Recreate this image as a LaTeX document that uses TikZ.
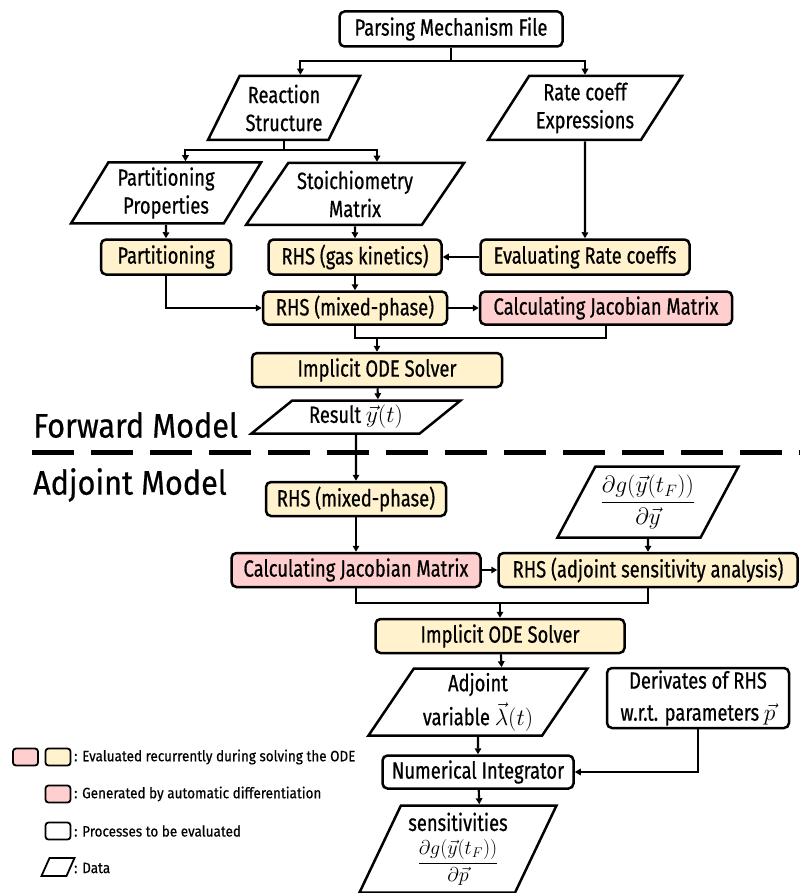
\RequirePackage{fix-cm}
\documentclass[tikz,border=0pt]{standalone}
\usepackage[no-math]{fontspec}
\setmainfont[FakeStretch=0.78,FakeBold=0.6]{Fira Sans}
\newfontfamily\widefont[FakeStretch=0.9,FakeBold=0.5]{Fira Sans}
\usetikzlibrary{shapes.geometric,arrows.meta}
\definecolor{procyellow}{HTML}{FFF2CC}
\definecolor{procpink}{HTML}{FFCFCF}
\begin{document}
\begin{tikzpicture}[x=1pt,y=-1pt,
   >={Triangle[length=6pt,width=6.5pt]},
   every node/.style={font=\fontsize{23.5}{28}\selectfont},
   process/.style={draw,line width=2.5pt,rounded corners=5pt,align=center,inner sep=1pt},
   databox/.style={draw,line width=2.5pt,trapezium,trapezium left angle=#1,trapezium right angle=180-#1,
      trapezium stretches body,align=center,inner sep=1pt},
   databox/.default=60,
   link/.style={line width=2.1pt},
   legbox/.style={draw,line width=1.8pt,rounded corners=3pt,minimum width=25pt,minimum height=17pt,inner sep=0pt},
   legtext/.style={anchor=west,inner sep=0pt,font=\widefont\fontsize{15}{18}\selectfont},
   title/.style={anchor=west,inner sep=0pt,font=\widefont\fontsize{34}{40}\selectfont}]
   \useasboundingbox (0,0) rectangle (800,893);
   \node[process,minimum width=223pt,minimum height=35pt] (pmf) at (451,29) {Parsing Mechanism File};
   \node[databox=57,minimum width=152pt,minimum height=64pt] (rs) at (284,108) {Reaction\\Structure};
   \node[databox=52,minimum width=194pt,minimum height=64pt] (rc) at (585,108) {Rate coeff\\Expressions};
   \node[databox=55,minimum width=190pt,minimum height=61pt] (pp) at (166,193) {Partitioning\\Properties};
   \node[databox=49,minimum width=218pt,minimum height=62pt] (sm) at (355,194) {Stoichiometry\\Matrix};
   \node[process,fill=procyellow,minimum width=130pt,minimum height=35pt] (part) at (166,257) {Partitioning};
   \node[process,fill=procyellow,minimum width=173pt,minimum height=35pt] (gas) at (355,257) {RHS (gas kinetics)};
   \node[process,fill=procyellow,minimum width=209pt,minimum height=35pt] (erc) at (585,257) {Evaluating Rate coeffs};
   \node[process,fill=procyellow,minimum width=184pt,minimum height=33pt] (mix) at (355,308) {RHS (mixed-phase)};
   \node[process,fill=procpink,minimum width=252pt,minimum height=33pt] (jac) at (606,308) {Calculating Jacobian Matrix};
   \node[process,fill=procyellow,minimum width=250pt,minimum height=34pt] (ode) at (377,370) {Implicit ODE Solver};
   \node[databox=32,minimum width=209pt,minimum height=33pt] (res) at (356,417) {Result $\vec{y}(t)$};
   \node[title] (fwd) at (33,425) {Forward Model};
   \node[title] (adjm) at (33,485) {Adjoint Model};
   \coordinate (sepl) at (32,452);
   \coordinate (sepr) at (800,452);
   \draw[line width=5pt,dash pattern=on 42pt off 17pt] (sepl) -- (sepr);
   \node[process,fill=procyellow,minimum width=180pt,minimum height=34pt] (amix) at (356,499) {RHS (mixed-phase)};
   \node[databox=56,minimum width=181pt,minimum height=71pt] (dgdy) at (648,502) {$\displaystyle\frac{\partial g(\vec{y}(t_F))}{\partial\vec{y}}$};
   \node[process,fill=procpink,minimum width=249pt,minimum height=34pt] (ajac) at (356,570) {Calculating Jacobian Matrix};
   \node[process,fill=procyellow,minimum width=299pt,minimum height=34pt] (adj) at (648,570) {RHS (adjoint sensitivity analysis)};
   \node[process,fill=procyellow,minimum width=249pt,minimum height=34pt] (aode) at (500,636) {Implicit ODE Solver};
   \node[databox=53,minimum width=219pt,minimum height=67pt] (lam) at (478,702) {Adjoint\\[6pt]variable $\vec{\lambda}(t)$};
   \node[process,minimum width=182pt,minimum height=60pt] (der) at (698,698) {Derivates of RHS\\[4pt]w.r.t. parameters $\vec{p}$};
   \node[process,minimum width=191pt,minimum height=33pt] (ni) at (478,772) {Numerical Integrator};
   \node[databox=61,minimum width=197pt,minimum height=87pt] (sens) at (458,849) {sensitivities\\[7pt]{\fontsize{20}{24}\selectfont$\displaystyle\frac{\partial g\bigl(\vec{y}(t_F)\bigr)}{\partial\vec{p}}$}};
   \coordinate (psplit) at (451,61);
   \coordinate (rsplit) at (284,150);
   \coordinate (fjoin) at (377,338);
   \coordinate (ajoin) at (500,603);
   \draw[link] (pmf) -- (psplit);
   \draw[link,->] (psplit) -| (rs.top side);
   \draw[link,->] (psplit) -| (rc);
   \draw[link] (rs) -- (rsplit);
   \draw[link,->] (rsplit) -| (pp.top side);
   \draw[link,->] (rsplit) -| (sm.top side);
   \draw[link,->] (pp) -- (part);
   \draw[link,->] (sm) -- (gas);
   \draw[link,->] (rc) -- (erc);
   \draw[link,->] (erc) -- (gas);
   \draw[link,->] (gas) -- (mix);
   \draw[link,->] (part) |- (mix);
   \draw[link,->] (mix) -- (jac);
   \draw[link] (mix) |- (fjoin) -| (jac);
   \draw[link,->] (fjoin) -- (ode);
   \draw[link,->] (ode) -- (res.top side);
   \draw[link,->] (res) -- (amix);
   \draw[link,->] (amix) -- (ajac);
   \draw[link,->] (ajac) -- (adj);
   \draw[link,->] (dgdy) -- (adj);
   \draw[link] (ajac) |- (ajoin) -| (adj);
   \draw[link,->] (ajoin) -- (aode);
   \draw[link,->] (aode) -- (lam.top side);
   \draw[link,->] (lam) -- (ni);
   \draw[link,->] (ni) -- (sens.top side);
   \draw[link,->] (der) |- (ni);
   \node[legbox,fill=procpink] (lgpinka) at (25.5,757) {};
   \node[legbox,fill=procyellow] (lgyellow) at (58,757) {};
   \node[legtext] (lgta) at (74,757) {: Evaluated recurrently during solving the ODE};
   \node[legbox,fill=procpink] (lgpinkb) at (58,794) {};
   \node[legtext] (lgtb) at (74,794) {: Generated by automatic differentiation};
   \node[legbox] (lgwhite) at (58,831) {};
   \node[legtext] (lgtc) at (74,831) {: Processes to be evaluated};
   \node[databox=66,line width=1.8pt,minimum width=33pt,inner xsep=0pt,inner ysep=9pt] (lgdata) at (58,867) {};
   \node[legtext] (lgtd) at (74,868) {: Data};
\end{tikzpicture}
\end{document}
